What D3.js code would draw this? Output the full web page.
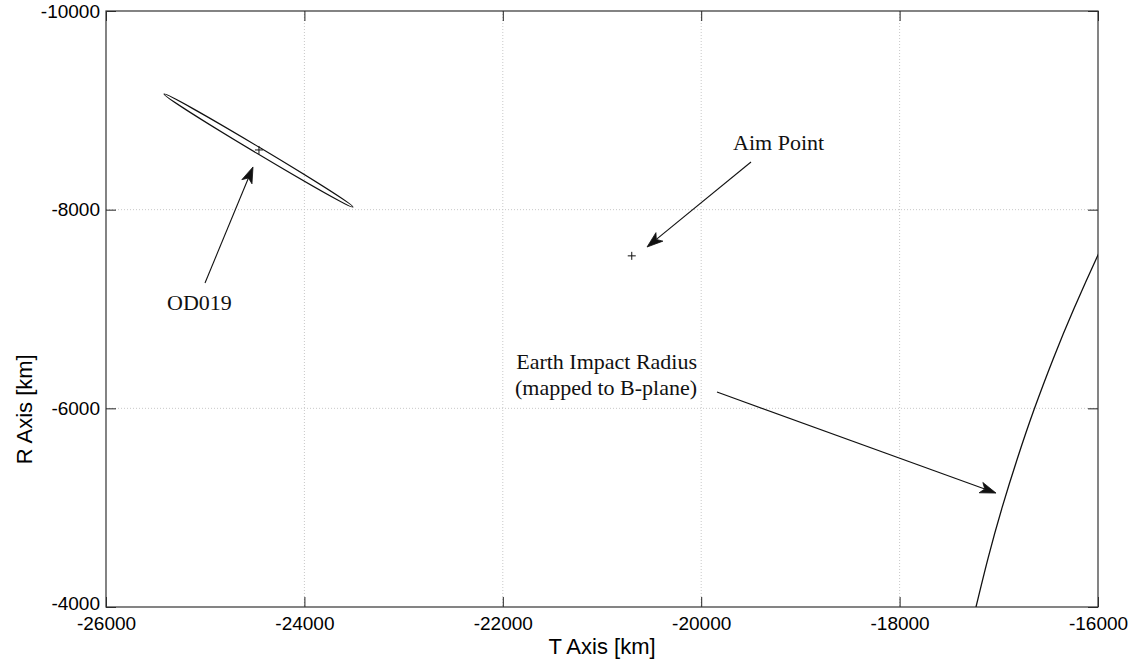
<!DOCTYPE html>
<html>
<head>
<meta charset="utf-8">
<script src="https://cdn.jsdelivr.net/npm/d3@7"></script>
<style>
  html, body { margin: 0; padding: 0; background: #fff; }
  svg { display: block; }
</style>
</head>
<body>
<svg id="chart" width="1131" height="663"></svg>
<script>
// ---- data ----
const xTicks = [-26000, -24000, -22000, -20000, -18000, -16000];
const yTicks = [-10000, -8000, -6000, -4000];
const xDomain = [-26000, -16000];
const yDomain = [-10000, -4000];

// OD019 uncertainty ellipse
const od019Center = [-24458, -8601];
const od019End1 = [-25415, -9164];
const od019End2 = [-23510, -8026];
const od019SemiMinorKm = 32;

// Aim point
const aimPoint = [-20700, -7535];

// Earth impact radius mapped to B-plane (T, R)
const earthT = [-17230, -17106, -16967, -16811, -16640, -16451, -16244, -16000, -15960];
const earthR = [-4000, -4500, -5000, -5500, -6000, -6500, -7000, -7544, -7620];

// Annotations (data coordinates)
const annLabels = ["OD019", "Aim Point", "Earth Impact Radius", "(mapped to B-plane)"];
const annLabelT = [-25385, -19679, -20042, -20042];
const annLabelR = [-6990, -8601, -6396, -6134];
const annAnchor = ["start", "start", "end", "end"];
const arrowTailT = [-25002, -19498, -19841];
const arrowTailR = [-7262, -8480, -6164];
const arrowTipT = [-24518, -20546, -17028];
const arrowTipR = [-8430, -7624, -5147];

// ---- chart ----
const W = 1131, H = 663;
const m = { left: 106, top: 11, right: 33, bottom: 56 };
const svg = d3.select("#chart");

const x = d3.scaleLinear().domain(xDomain).range([m.left, W - m.right]);
const y = d3.scaleLinear().domain(yDomain).range([m.top, H - m.bottom]);

svg.append("defs").append("clipPath").attr("id", "clip")
  .append("rect")
  .attr("x", m.left).attr("y", m.top)
  .attr("width", W - m.left - m.right).attr("height", H - m.top - m.bottom);

// grid
const grid = svg.append("g").attr("stroke", "#c8c8c8").attr("stroke-width", 1)
  .attr("stroke-dasharray", "1,2");
grid.selectAll("line.vx").data(xTicks.slice(1, -1)).join("line")
  .attr("x1", d => x(d)).attr("x2", d => x(d))
  .attr("y1", m.top).attr("y2", H - m.bottom);
grid.selectAll("line.hy").data(yTicks.slice(1, -1)).join("line")
  .attr("y1", d => y(d)).attr("y2", d => y(d))
  .attr("x1", m.left).attr("x2", W - m.right);

// axes
const tickFont = "'Liberation Sans', Arial, Helvetica, sans-serif";
const fmt = d => String(d);   // plain hyphen-minus like the reference
function styleAxis(g, showText) {
  g.select(".domain").remove();
  g.selectAll(".tick line").attr("stroke", "#222");
  g.selectAll(".tick text").attr("fill", "#000")
    .style("font-family", tickFont).style("font-size", "19px");
  if (!showText) g.selectAll(".tick text").remove();
}
svg.append("g").attr("transform", `translate(0,${H - m.bottom})`)
  .call(d3.axisBottom(x).tickValues(xTicks).tickFormat(fmt).tickSizeInner(-10).tickSizeOuter(0).tickPadding(10))
  .call(g => styleAxis(g, true));
svg.append("g").attr("transform", `translate(0,${m.top})`)
  .call(d3.axisTop(x).tickValues(xTicks).tickSizeInner(-10).tickSizeOuter(0))
  .call(g => styleAxis(g, false));
svg.append("g").attr("transform", `translate(${m.left},0)`)
  .call(d3.axisLeft(y).tickValues(yTicks).tickFormat(fmt).tickSizeInner(-10).tickSizeOuter(0).tickPadding(6))
  .call(g => styleAxis(g, true))
  .call(g => g.selectAll(".tick text").filter(d => d === yDomain[1]).attr("dy", "0.12em"));
svg.append("g").attr("transform", `translate(${W - m.right},0)`)
  .call(d3.axisRight(y).tickValues(yTicks).tickSizeInner(-10).tickSizeOuter(0))
  .call(g => styleAxis(g, false));

// box
svg.append("rect")
  .attr("x", m.left).attr("y", m.top)
  .attr("width", W - m.left - m.right).attr("height", H - m.top - m.bottom)
  .attr("fill", "none").attr("stroke", "#333").attr("stroke-width", 1.2);

// axis labels
svg.append("text")
  .attr("x", (m.left + W - m.right) / 2).attr("y", 654)
  .attr("text-anchor", "middle")
  .style("font-family", tickFont).style("font-size", "22px")
  .text("T Axis [km]");
svg.append("text")
  .attr("transform", `translate(32,${y(-5990)}) rotate(-90)`)
  .attr("text-anchor", "middle")
  .style("font-family", tickFont).style("font-size", "22px")
  .text("R Axis [km]");

const plot = svg.append("g").attr("clip-path", "url(#clip)");

// earth impact radius curve
const earthPts = earthT.map((t, i) => [t, earthR[i]]);
plot.append("path")
  .datum(earthPts)
  .attr("fill", "none").attr("stroke", "#111").attr("stroke-width", 1.3)
  .attr("d", d3.line().x(d => x(d[0])).y(d => y(d[1])).curve(d3.curveNatural));

// OD019 ellipse
{
  const p1 = [x(od019End1[0]), y(od019End1[1])];
  const p2 = [x(od019End2[0]), y(od019End2[1])];
  const rx = Math.hypot(p2[0] - p1[0], p2[1] - p1[1]) / 2;
  const ry = Math.abs(y(od019Center[1] + od019SemiMinorKm) - y(od019Center[1]));
  const ang = Math.atan2(p2[1] - p1[1], p2[0] - p1[0]) * 180 / Math.PI;
  const mx = (p1[0] + p2[0]) / 2, my = (p1[1] + p2[1]) / 2;
  plot.append("ellipse")
    .attr("cx", 0).attr("cy", 0).attr("rx", rx).attr("ry", ry)
    .attr("transform", `translate(${mx},${my}) rotate(${ang})`)
    .attr("fill", "none").attr("stroke", "#111").attr("stroke-width", 1.1);
}

// cross markers
const crosses = [od019Center, aimPoint];
plot.selectAll("path.cross").data(crosses).join("path")
  .attr("fill", "none").attr("stroke", "#111").attr("stroke-width", 1)
  .attr("d", d => {
    const cx = x(d[0]), cy = y(d[1]), s = 4;
    return `M${cx - s},${cy}H${cx + s}M${cx},${cy - s}V${cy + s}`;
  });

// arrows
const annG = svg.append("g");
arrowTailT.forEach((t, i) => {
  const x1 = x(t), y1 = y(arrowTailR[i]);
  const x2 = x(arrowTipT[i]), y2 = y(arrowTipR[i]);
  const len = Math.hypot(x2 - x1, y2 - y1);
  const ux = (x2 - x1) / len, uy = (y2 - y1) / len;
  const nx = -uy, ny = ux;
  const L = 16, Wd = 5.5, notch = 4;
  annG.append("line")
    .attr("x1", x1).attr("y1", y1)
    .attr("x2", x2 - ux * (L - notch)).attr("y2", y2 - uy * (L - notch))
    .attr("stroke", "#111").attr("stroke-width", 1.1);
  const bx = x2 - ux * L, by = y2 - uy * L;
  const ix = x2 - ux * (L - notch), iy = y2 - uy * (L - notch);
  annG.append("path")
    .attr("d", `M${x2},${y2}L${bx + nx * Wd},${by + ny * Wd}L${ix},${iy}L${bx - nx * Wd},${by - ny * Wd}Z`)
    .attr("fill", "#111").attr("stroke", "#111").attr("stroke-width", 0.8)
    .attr("stroke-linejoin", "miter");
});

// annotation labels
annG.selectAll("text.ann").data(annLabels).join("text")
  .attr("x", (d, i) => x(annLabelT[i]))
  .attr("y", (d, i) => y(annLabelR[i]))
  .attr("text-anchor", (d, i) => annAnchor[i])
  .style("font-family", "'Liberation Serif', 'Times New Roman', serif")
  .style("font-size", "22px")
  .attr("fill", "#111")
  .text(d => d);
</script>
</body>
</html>
